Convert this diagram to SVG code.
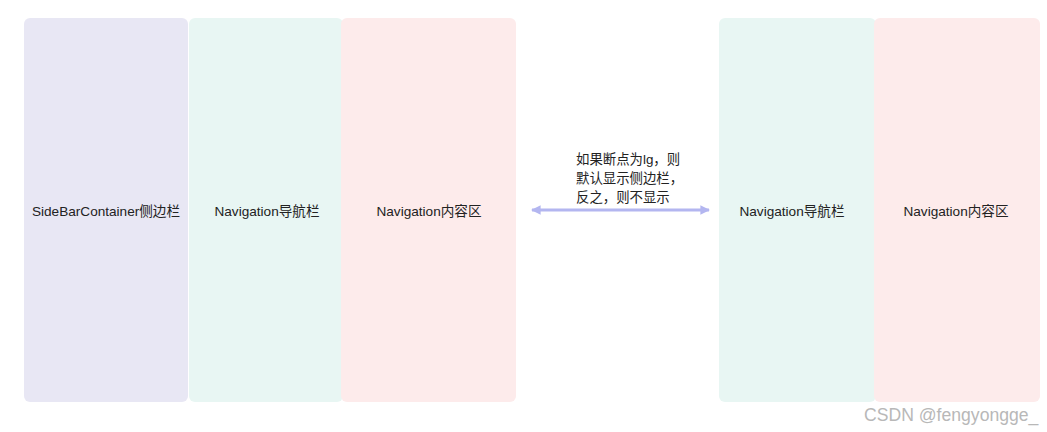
<svg xmlns="http://www.w3.org/2000/svg" width="1047" height="432" viewBox="0 0 1047 432">
<style>
.lbl{font-family:"Liberation Sans","Noto Sans CJK SC",sans-serif;font-size:13.6px;fill:#222;text-anchor:middle;dominant-baseline:central}
.note{font-family:"Liberation Sans","Noto Sans CJK SC",sans-serif;font-size:13.4px;fill:#222}
.wm{font-family:"Liberation Sans","Noto Sans CJK SC",sans-serif;font-size:17.6px;fill:#b8b8b8}
</style>
<defs>
<marker id="ah" viewBox="0 0 10 10" refX="9" refY="5" markerWidth="3.2" markerHeight="3.2" orient="auto-start-reverse">
<path d="M0,0 L10,5 L0,10 Z" fill="#b3b6f0"/>
</marker>
</defs>
<rect width="1047" height="432" fill="#fff"/>
<g id="sidebar"><rect x="24" y="18" width="164" height="384" rx="6" fill="#e8e7f4"/><text class="lbl" x="106" y="211">SideBarContainer侧边栏</text></g>
<g id="nav1"><rect x="189" y="18" width="154" height="384" rx="6" fill="#e8f6f3"/><text class="lbl" x="267" y="211">Navigation导航栏</text></g>
<g id="content1"><rect x="341" y="18" width="175" height="384" rx="6" fill="#fdebeb"/><text class="lbl" x="429" y="211">Navigation内容区</text></g>
<g id="nav2"><rect x="719" y="18" width="157" height="384" rx="6" fill="#e8f6f3"/><text class="lbl" x="792" y="211">Navigation导航栏</text></g>
<g id="content2"><rect x="874" y="18" width="166" height="384" rx="6" fill="#fdebeb"/><text class="lbl" x="956" y="211">Navigation内容区</text></g>
<g id="connectors">
<line x1="532" y1="210" x2="709" y2="210" stroke="#b3b6f0" stroke-width="3" marker-start="url(#ah)" marker-end="url(#ah)"/>
<text class="note" x="576" y="164">如果断点为lg，则</text>
<text class="note" x="576" y="183">默认显示侧边栏，</text>
<text class="note" x="576" y="202">反之，则不显示</text>
</g>
<text class="wm" x="864" y="421">CSDN @fengyongge_</text>
</svg>
